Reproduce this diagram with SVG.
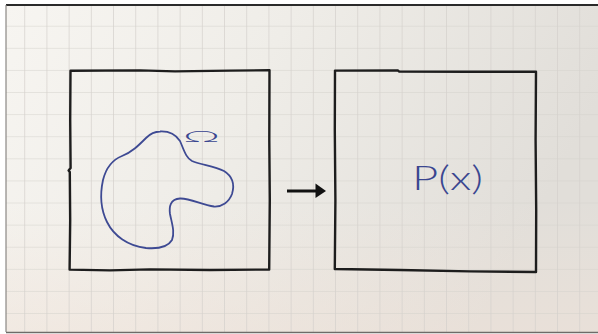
<svg xmlns="http://www.w3.org/2000/svg" width="598" height="334" viewBox="0 0 598 334">
  <defs>
    <!-- paper shading: brighter on the left, greyer on the right -->
    <linearGradient id="paper" x1="0" y1="0" x2="1" y2="0.3">
      <stop offset="0" stop-color="#f7f5f1"/>
      <stop offset="0.45" stop-color="#efede8"/>
      <stop offset="1" stop-color="#e1ded9"/>
    </linearGradient>
    <linearGradient id="warm" x1="0" y1="0" x2="0" y2="1">
      <stop offset="0.6" stop-color="#f3e6dc" stop-opacity="0"/>
      <stop offset="1" stop-color="#f0e2d8" stop-opacity="0.5"/>
    </linearGradient>
    <pattern id="grid" x="3" y="4.6" width="22.2" height="22.1" patternUnits="userSpaceOnUse">
      <path d="M22 0 V22.1 M0 22.1 H22.2" fill="none" stroke="#d4d1cc" stroke-width="1"/>
    </pattern>
  </defs>
  <style>
    .ink { fill: none; stroke: #1d1d1d; stroke-width: 2.4; stroke-linejoin: round; stroke-linecap: round; }
    .pen { fill: none; stroke: #3e4a93; stroke-width: 1.8; stroke-linecap: round; stroke-linejoin: round; }
    .script { fill: #3a4690; font-family: Lato, "Open Sans", "Liberation Sans", sans-serif; font-weight: 300; }
    .arrow-line { stroke: #111; stroke-width: 3; fill: none; }
    .arrow-head { fill: #111; }
  </style>

  <!-- sheet of grid paper -->
  <rect x="0" y="0" width="598" height="334" fill="#ffffff"/>
  <rect x="6" y="5" width="592" height="327" fill="url(#paper)"/>
  <rect x="6" y="5" width="592" height="327" fill="url(#warm)"/>
  <rect x="6" y="5" width="592" height="327" fill="url(#grid)"/>
  <line x1="6" y1="5" x2="598" y2="5" stroke="#2a2a2a" stroke-width="2"/>
  <line x1="6" y1="5" x2="6" y2="332" stroke="#8a8784" stroke-width="1.2"/>
  <line x1="6" y1="332.5" x2="598" y2="332.5" stroke="#6e6b68" stroke-width="1.5"/>

  <!-- domain with its boundary Omega -->
  <g id="domain">
    <path class="ink" d="M70.5 70.8 L140 70.4 L175 71.4 L230 70.6 L269.5 70.2 L269.3 140 L269.8 200 L269.2 269.5 L210 270 L150 269.4 L110 270.4 L69.6 269.6 L70.2 220 L69.8 172 L68.6 170.5 L70.6 168 L70.2 120 Z"/>
    <path class="pen" d="M160 131.5 C170 131 176 135 180 141 C184 150 186 158 192 161 C202 165 214 166 224 171 C232 176 235 184 232 194 C229 202 222 207 214 206.5 C202 205 190 198 180 198.5 C170 199 169 207 170 214 C172 224 175 232 172 240 C168 247 158 249 146 248 C128 246 114 236 107 222 C101 210 100 194 103 180 C106 168 112 160 122 156 C132 152 138 146 146 138 C150 134 155 131.5 160 131.5 Z"/>
    <text class="script" x="183" y="141.5" font-size="15" textLength="37" lengthAdjust="spacingAndGlyphs">Ω</text>
  </g>

  <!-- distribution over the domain -->
  <g id="distribution">
    <path class="ink" d="M335 70.6 L398 70.4 L399 71.6 L470 71.8 L536 71.6 L535.6 140 L536.2 210 L536 272 L470 271.4 L400 270 L334.8 269 L335.4 200 L334.8 130 Z"/>
    <text class="script" x="412" y="190" font-size="33" textLength="71" lengthAdjust="spacingAndGlyphs">P(x)</text>
  </g>

  <!-- mapping arrow -->
  <g id="connectors">
    <line class="arrow-line" x1="287" y1="191" x2="318" y2="191"/>
    <polygon class="arrow-head" points="315.5,183.5 326,191 315.5,198"/>
  </g>
</svg>
